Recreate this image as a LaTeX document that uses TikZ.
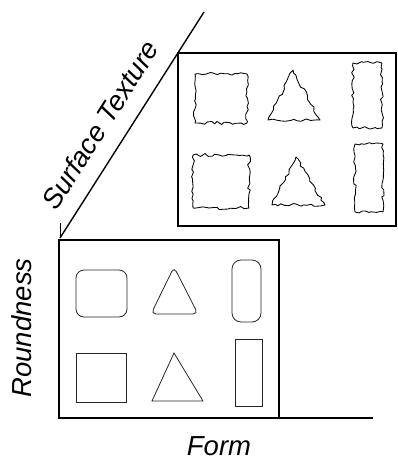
\documentclass[tikz,border=0pt]{standalone}
\usepackage{fontspec}
\setmainfont{Liberation Sans}
\usetikzlibrary{decorations.pathmorphing}
\begin{document}
\begin{tikzpicture}[x=1pt,y=-1pt,
  frame/.style={draw=black, line width=1.9pt},
  axis/.style={draw=black, line width=1.4pt},
  smoothshape/.style={draw=black!85, line width=0.8pt},
  rough/.style={draw=black, line width=0.85pt, line join=round, decorate,
    decoration={random steps, segment length=3.6pt, amplitude=1.5pt}},
  lbl/.style={font=\itshape\fontsize{27.5}{28}\selectfont, inner sep=0pt}]
\pgfmathsetseed{7}
\useasboundingbox (0,0) rectangle (398,460);
% axes
\coordinate (O) at (60,418);
\coordinate (Xend) at (373,418);
\coordinate (Dstart) at (60,238);
\coordinate (Dend) at (204,12);
\coordinate (Ytick) at (60,223);
\draw[axis] (O) -- (Xend);
\draw[axis] (Dstart) -- (Dend);
\draw[line width=0.6pt] (Ytick) -- (Dstart);
% boxes
\draw[frame] (59,240) rectangle (279,418);
\draw[frame, fill=white] (178,53) rectangle (396,226);
% front (smooth) shapes
\draw[smoothshape, rounded corners=8pt] (76,270) rectangle (127,317);
\draw[smoothshape, rounded corners=5pt] (174,267) -- (198,314) -- (151,314) -- cycle;
\draw[smoothshape, rounded corners=9pt] (232,260) rectangle (261,322);
\draw[smoothshape] (76,353) rectangle (126,402);
\draw[smoothshape] (174,353) -- (203,401) -- (152,401) -- cycle;
\draw[smoothshape] (235,339) rectangle (262,406);
% rough shapes
\draw[rough] (195,74) -- (247,74) -- (247,123) -- (195,123) -- cycle;
\draw[rough] (293,70) -- (320,120) -- (268,120) -- cycle;
\draw[rough] (353,63) -- (382,63) -- (382,128) -- (353,128) -- cycle;
\draw[rough] (193,155) -- (249,155) -- (249,208) -- (193,208) -- cycle;
\draw[rough] (296,157) -- (325,205) -- (272,205) -- cycle;
\draw[rough] (355,144) -- (383,144) -- (383,212) -- (355,212) -- cycle;
% labels
\node[lbl, rotate=57.5] (st) at (100,125) {Surface Texture};
\node[lbl, rotate=90] (rd) at (22,328) {Roundness};
\node[lbl] (fm) at (219,446) {Form};
\end{tikzpicture}
\end{document}
